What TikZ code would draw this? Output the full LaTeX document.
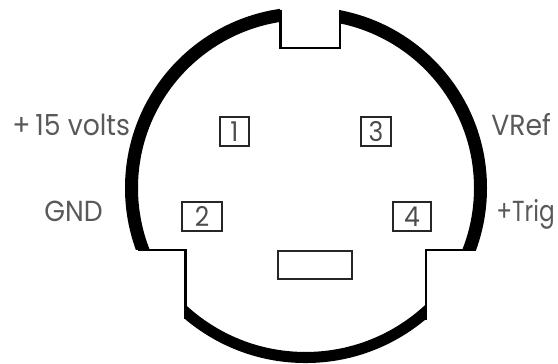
\documentclass[tikz,border=0pt]{standalone}
\usepackage{fontspec}
\setmainfont[FakeStretch=0.92]{Poppins}
\newfontfamily\trigfont[FakeStretch=0.8]{Poppins}
\tikzset{
	pin/.style={draw=black!85,line width=1.3pt,inner sep=0pt,text=black!70,font=\fontsize{15.5}{15.5}\selectfont},
	signal/.style={anchor=base west,inner sep=0pt,text=black!65,font=\fontsize{16.5}{16.5}\selectfont},
	outline/.style={line width=1.2pt,line cap=butt,line join=miter}
}

\begin{document}
\begin{tikzpicture}[x=0.02cm,y=-0.02cm]
	\useasboundingbox (0,0) rectangle (558,364);
	
	% Draw upper rim
	\begin{scope}
		\clip (0,0) rectangle (280,250) (340,0) rectangle (558,250);
		\draw[line width=7.4pt] (306,188) circle (174.5);
	\end{scope}
	
	% Draw lower rim
	\begin{scope}
		\clip (185,250) rectangle (426.5,364);
		\draw[line width=6.3pt] (305.5,176) circle (181.5);
	\end{scope}
	
	% Draw key and shoulders
	\draw[outline] (280.5,10) -- (280.5,48) -- (340,48) -- (340,10);
	\draw[outline] (138,250) -- (185.5,250) -- (185.5,319);
	\draw[outline] (476,250) -- (426,250) -- (426,320);
	
	% Draw pins
	\node[pin,minimum width=0.58cm,minimum height=0.58cm] (pinOne) at (234.5,131.5) {1};
	\node[pin,minimum width=0.60cm,minimum height=0.58cm] (pinThree) at (376,131.5) {3};
	\node[pin,minimum width=0.80cm,minimum height=0.58cm] (pinTwo) at (202,216.5) {2};
	\node[pin,minimum width=0.76cm,minimum height=0.58cm] (pinFour) at (412,216.5) {4};
	\node[pin,minimum width=1.48cm,minimum height=0.56cm] (slot) at (315,265) {};
	
	% Draw signal names
	\node[signal] (volts) at (12,136) {+\,15 volts};
	\node[signal] (gnd) at (44,222) {GND};
	\node[signal] (vref) at (491,136) {VRef};
	\node[signal] (trig) at (496,222) {\trigfont +Trig};
	
\end{tikzpicture}
\end{document}
